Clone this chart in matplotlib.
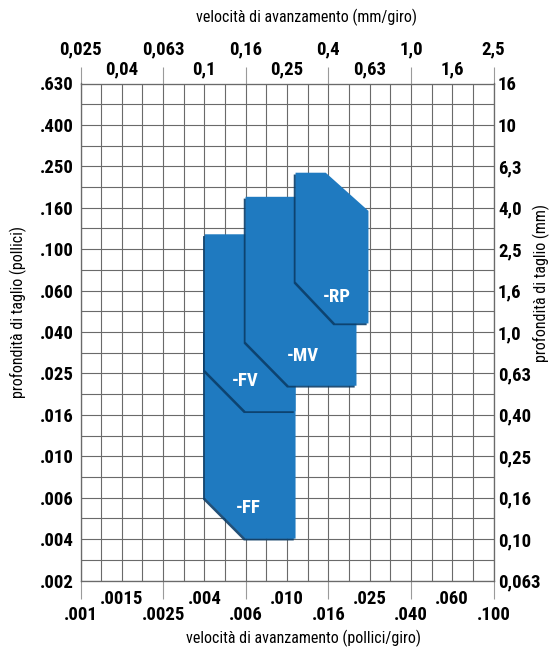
import numpy as np
import matplotlib
matplotlib.use("Agg")
import matplotlib.pyplot as plt
from matplotlib.patches import Polygon
from matplotlib.ticker import FixedLocator
import matplotlib.patheffects as pe

# Feed axis labels (inch/rev bottom, mm/rev top), one per 0.2-decade step
feed_in_labels = [".001", ".0015", ".0025", ".004", ".006", ".010",
                  ".016", ".025", ".040", ".060", ".100"]
feed_mm_labels = ["0,025", "0,04", "0,063", "0,1", "0,16", "0,25",
                  "0,4", "0,63", "1,0", "1,6", "2,5"]

# Depth-of-cut axis labels (inch left, mm right), top to bottom
depth_in_labels = [".630", ".400", ".250", ".160", ".100", ".060", ".040",
                   ".025", ".016", ".010", ".006", ".004", ".002"]
depth_mm_labels = ["16", "10", "6,3", "4,0", "2,5", "1,6", "1,0", "0,63",
                   "0,40", "0,25", "0,16", "0,10", "0,063"]

# Application areas of the chipbreakers: (feed in/rev, depth in)
chipbreakers = ["-FF", "-FV", "-MV", "-RP"]
ff_feed = [0.004, 0.011, 0.011, 0.0063, 0.004]
ff_depth = [0.040, 0.040, 0.004, 0.004, 0.0063]
fv_feed = [0.004, 0.011, 0.011, 0.0063, 0.004]
fv_depth = [0.118, 0.118, 0.0165, 0.0165, 0.0261]
mv_feed = [0.0063, 0.018, 0.0217, 0.0217, 0.0102, 0.0063]
mv_depth = [0.179, 0.179, 0.14, 0.0219, 0.0219, 0.0357]
rp_feed = [0.011, 0.0154, 0.0248, 0.0248, 0.0171, 0.011]
rp_depth = [0.234, 0.234, 0.153, 0.0438, 0.0438, 0.0697]
label_feed = [0.00647, 0.0063, 0.0119, 0.0175]
label_depth = [0.00562, 0.0231, 0.0305, 0.0587]

BLUE = "#1f7ac0"
SHADOW = "#0b3d68"
GRID = "#6a6a6a"
CONDENSED = ["Roboto Condensed", "DejaVu Sans Condensed",
             "Liberation Sans Narrow", "Roboto"]
TICK_FONT = dict(family=CONDENSED, weight="bold", size=13.5)
TITLE_FONT = dict(family=CONDENSED, size=11.5)

fig = plt.figure(figsize=(5.6, 6.51), dpi=100)
ax = fig.add_axes([80.5 / 560, 1 - 580.5 / 651, 413 / 560, 497 / 651])

x_lo, x_hi = 10 ** -3, 10 ** -1
y_lo, y_hi = 10 ** -2.6, 10 ** -0.2
ax.set_xscale("log")
ax.set_yscale("log")
ax.set_xlim(x_lo, x_hi)
ax.set_ylim(y_lo, y_hi)

# uniform grid, one line every 0.1 decade
for e in np.arange(-3.0, -0.99, 0.1):
    ax.axvline(10 ** e, color=GRID, lw=0.8, zorder=1)
for e in np.arange(-2.6, -0.19, 0.1):
    ax.axhline(10 ** e, color=GRID, lw=0.8, zorder=1)
for s in ax.spines.values():
    s.set_color(GRID)
    s.set_linewidth(0.8)

# chipbreaker areas, drawn back to front
shapes = [(ff_feed, ff_depth), (fv_feed, fv_depth),
          (mv_feed, mv_depth), (rp_feed, rp_depth)]
for k, (fx, fy) in enumerate(shapes):
    poly = Polygon(np.column_stack([fx, fy]), closed=True, facecolor=BLUE,
                   edgecolor="none", zorder=3 + k)
    poly.set_path_effects([pe.SimplePatchShadow(offset=(-1.3, -1.3),
                                                shadow_rgbFace=SHADOW, alpha=0.9),
                           pe.Normal()])
    ax.add_patch(poly)

for name, lx, ly in zip(chipbreakers, label_feed, label_depth):
    ax.text(lx, ly, name, color="white", ha="center", va="center",
            zorder=10, **TICK_FONT)

# feed ticks: labels alternate between an outer and an inner row
feed_pos = 10 ** np.linspace(-3, -1, len(feed_in_labels))
depth_pos = 10 ** np.linspace(-0.2, -2.6, len(depth_in_labels))

def feed_ticks(axis, labels):
    axis.set_major_locator(FixedLocator(feed_pos[0::2]))
    axis.set_minor_locator(FixedLocator(feed_pos[1::2]))
    axis.set_ticklabels(labels[0::2], **TICK_FONT)
    axis.set_ticklabels(labels[1::2], minor=True, **TICK_FONT)

feed_ticks(ax.xaxis, feed_in_labels)
ax.tick_params(axis="x", which="major", length=12.6, width=0.8, color="#9a9a9a", pad=5.5)
ax.tick_params(axis="x", which="minor", length=0, pad=6.6)

ax.yaxis.set_major_locator(FixedLocator(depth_pos))
ax.yaxis.set_minor_locator(FixedLocator([]))
ax.set_yticklabels(depth_in_labels, **TICK_FONT)
ax.tick_params(axis="y", which="major", length=0, pad=4.7)

ax_top = ax.twiny()
ax_top.set_xscale("log")
ax_top.set_xlim(x_lo, x_hi)
feed_ticks(ax_top.xaxis, feed_mm_labels)
ax_top.tick_params(axis="x", which="major", length=12.6, width=0.8, color="#9a9a9a", pad=5.6)
ax_top.tick_params(axis="x", which="minor", length=0, pad=3.8)

ax_right = ax.twinx()
ax_right.set_yscale("log")
ax_right.set_ylim(y_lo, y_hi)
ax_right.yaxis.set_major_locator(FixedLocator(depth_pos))
ax_right.yaxis.set_minor_locator(FixedLocator([]))
ax_right.set_yticklabels(depth_mm_labels, **TICK_FONT)
ax_right.tick_params(axis="y", which="major", length=0, pad=3.2)
for a in (ax_top, ax_right):
    for s in a.spines.values():
        s.set_color(GRID)
        s.set_linewidth(0.8)

fig.text(307 / 560, 1 - 17 / 651, "velocità di avanzamento (mm/giro)",
         ha="center", va="center", **TITLE_FONT)
fig.text(304 / 560, 1 - 638 / 651, "velocità di avanzamento (pollici/giro)",
         ha="center", va="center", **TITLE_FONT)
fig.text(18 / 560, 1 - 312 / 651, "profondità di taglio (pollici)",
         ha="center", va="center", rotation=90, **TITLE_FONT)
fig.text(541 / 560, 1 - 283 / 651, "profondità di taglio (mm)",
         ha="center", va="center", rotation=90, **TITLE_FONT)

fig.savefig("out.png", dpi=100, facecolor="white")
